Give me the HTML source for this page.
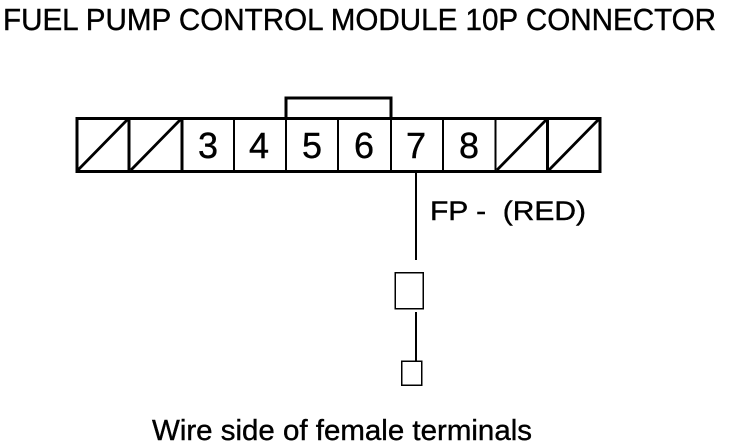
<!DOCTYPE html>
<html><head><meta charset="utf-8"><style>
html,body{margin:0;padding:0;background:#fff}
svg{display:block}
text{font-family:"Liberation Sans",Arial,sans-serif;fill:#000;stroke:#000;stroke-width:.4}
</style></head><body>
<svg width="736" height="448" viewBox="0 0 736 448">
<text x="3" y="30" font-size="31" textLength="713" lengthAdjust="spacingAndGlyphs">FUEL PUMP CONTROL MODULE 10P CONNECTOR</text>
<g fill="none" stroke="#000" shape-rendering="crispEdges">
<path d="M286 118V98H391V118" stroke-width="3"/>
<rect x="77" y="118.500" width="523" height="53" stroke-width="3"/>
<path d="M129 119V171M182 119V171M547.500 119V171" stroke-width="3"/>
<path d="M234 119V171M286 119V171M338 119V171M391 119V171M443 119V171M495.500 119V171" stroke-width="2"/>
<path d="M416 171V260" stroke-width="2"/>
<rect x="395" y="272.500" width="28" height="36" stroke-width="1.500"/>
<path d="M416 312V361" stroke-width="2"/>
<rect x="401.500" y="361" width="20" height="24" stroke-width="1.500"/>
</g>
<g stroke="#000" stroke-width="2.800" fill="none">
<path d="M78 170L128 119M131 170L181 119M497 170L547 119M549 170L599 119"/>
</g>
<g font-size="36" text-anchor="middle">
<text x="208" y="158">3</text>
<text x="259" y="158">4</text>
<text x="312" y="158">5</text>
<text x="364" y="158">6</text>
<text x="416" y="158">7</text>
<text x="469" y="158">8</text>
</g>
<text x="430" y="220" font-size="27" textLength="156" lengthAdjust="spacingAndGlyphs" xml:space="preserve">FP -  (RED)</text>
<text x="152" y="440" font-size="29" textLength="380" lengthAdjust="spacingAndGlyphs">Wire side of female terminals</text>
</svg>
</body></html>
